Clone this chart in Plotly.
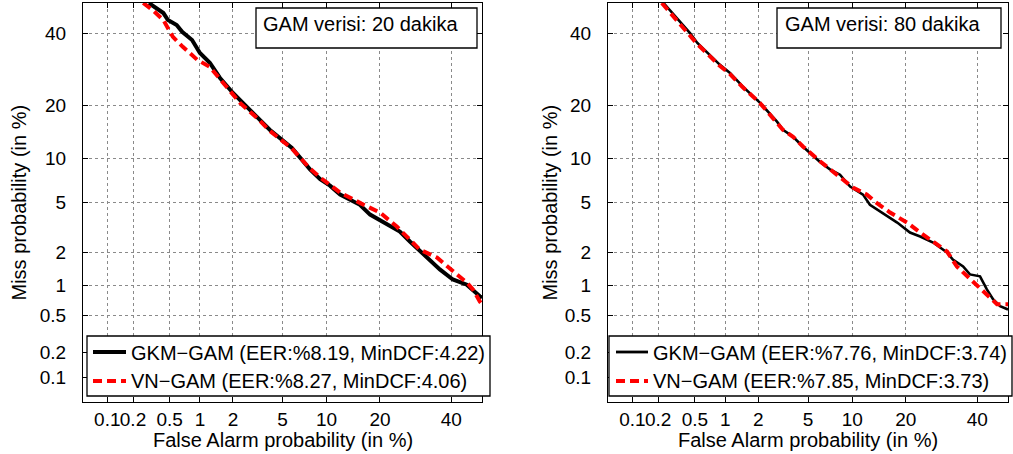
import plotly.graph_objects as go
from statistics import NormalDist

# ---------------- data (percentages) ----------------
tick_pct = [0.1, 0.2, 0.5, 1, 2, 5, 10, 20, 40]
tick_labels = ["0.1", "0.2", "0.5", "1", "2", "5", "10", "20", "40"]
axis_min_pct = 0.05
axis_max_pct = 50

left_title = "GAM verisi: 20 dakika"
right_title = "GAM verisi: 80 dakika"
left_names = ["GKM\u2212GAM (EER:%8.19, MinDCF:4.22)", "VN\u2212GAM (EER:%8.27, MinDCF:4.06)"]
right_names = ["GKM\u2212GAM (EER:%7.76, MinDCF:3.74)", "VN\u2212GAM (EER:%7.85, MinDCF:3.73)"]

left_gkm_fa = [0.30, 0.43, 0.48, 0.59, 0.67, 0.84, 1.0, 1.24, 1.53, 2.0, 2.43, 3.17, 4.0, 5.85, 7.8, 9.1,
               10.5, 12.1, 15.7, 17.8, 21.6, 24.9, 27.6, 32.5, 34.3, 36.4, 40.5, 45.0, 49.3, 50]
left_gkm_miss = [50, 46.7, 44.4, 42.8, 40.6, 38.0, 34.0, 31.1, 26.9, 22.9, 20.5, 17.4, 14.8, 11.6, 8.5, 7.3,
                 6.6, 5.7, 4.8, 4.05, 3.4, 2.97, 2.46, 1.79, 1.62, 1.40, 1.13, 1.01, 0.78, 0.75]

left_vn_fa = [0.26, 0.33, 0.43, 0.54, 0.68, 0.94, 1.24, 1.63, 2.3, 3.17, 4.0, 5.85, 7.8, 9.1, 12.1, 16.0,
              20.0, 24.1, 27.6, 30.4, 35.5, 38.6, 41.8, 45.0, 47.0, 49.3, 50]
left_vn_miss = [50, 47.7, 44.4, 39.0, 35.9, 32.0, 29.9, 25.5, 20.5, 17.2, 14.6, 11.5, 8.6, 7.5, 5.9, 4.9,
                4.2, 3.26, 2.56, 2.10, 1.79, 1.49, 1.26, 1.06, 0.91, 0.69, 0.65]

right_gkm_fa = [0.23, 0.29, 0.375, 0.445, 0.53, 0.71, 0.89, 1.11, 1.46, 2.07, 2.87, 3.21, 3.85, 4.59, 6.1,
                7.15, 8.35, 9.7, 11.65, 12.8, 14.6, 18.1, 21.0, 23.5, 26.9, 30.8, 32.5, 35.6, 37.7, 40.9,
                43.1, 45.1, 47.4, 50]
right_gkm_miss = [50, 46.7, 42.8, 40.2, 37.1, 33.4, 30.5, 28.2, 24.5, 20.5, 16.4, 14.8, 13.5, 11.8, 9.5,
                  8.5, 7.84, 6.5, 5.7, 4.8, 4.27, 3.51, 2.92, 2.71, 2.41, 1.98, 1.72, 1.49, 1.26, 1.21,
                  0.91, 0.73, 0.62, 0.575]

right_vn_fa = [0.22, 0.28, 0.36, 0.43, 0.52, 0.70, 0.88, 1.10, 1.45, 2.06, 2.85, 3.2, 3.85, 4.6, 6.1, 7.1,
               8.35, 10.1, 12.3, 13.7, 16.6, 20.3, 23.5, 26.9, 30.8, 33.7, 36.8, 39.9, 43.1, 46.4, 50]
right_vn_miss = [50, 46.5, 42.5, 40.0, 37.0, 33.2, 30.3, 28.0, 24.4, 20.5, 16.4, 14.8, 13.5, 11.8, 9.6, 8.6,
                 7.6, 6.4, 5.7, 5.07, 4.2, 3.51, 2.92, 2.46, 2.02, 1.49, 1.21, 1.01, 0.81, 0.65, 0.65]

# ---------------- helpers ----------------
_nd = NormalDist()


def probit(pct):
    return _nd.inv_cdf(pct / 100.0)


W, H = 1013, 454


def px(x):
    return x / W


def py(y):
    return 1 - y / H


FONT = "Liberation Sans, Arial, Helvetica, sans-serif"
RED = "#ff0000"

fig = go.Figure()


def add_curve(fa, miss, xa, ya, color, width, dash):
    fig.add_trace(go.Scatter(
        x=[probit(v) for v in fa], y=[probit(v) for v in miss],
        xaxis=xa, yaxis=ya, mode="lines",
        line=dict(color=color, width=width, dash=dash), hoverinfo="skip"))


add_curve(left_gkm_fa, left_gkm_miss, "x", "y", "black", 4, "solid")
add_curve(left_vn_fa, left_vn_miss, "x", "y", RED, 4, "9px,5px")
add_curve(right_gkm_fa, right_gkm_miss, "x2", "y2", "black", 2.6, "solid")
add_curve(right_vn_fa, right_vn_miss, "x2", "y2", RED, 4, "9px,5px")

tv = [probit(v) for v in tick_pct]
rng = [probit(axis_min_pct), probit(axis_max_pct)]

common = dict(
    range=rng, tickvals=tv, ticktext=tick_labels, showline=True, linecolor="black", linewidth=1,
    mirror="ticks", ticks="inside", ticklen=5, tickcolor="black", tickwidth=1,
    showgrid=True, gridcolor="#8a8a8a", griddash="dot", gridwidth=1, zeroline=False,
    tickfont=dict(family=FONT, size=19, color="black"), fixedrange=True, tickangle=0,
)

fig.update_layout(
    width=W, height=H, margin=dict(l=0, r=0, t=0, b=0),
    paper_bgcolor="white", plot_bgcolor="white", showlegend=False,
    xaxis=dict(domain=[px(83), px(482)], anchor="y", ticklabelstandoff=0, **common),
    yaxis=dict(domain=[py(402), py(3)], anchor="x", ticklabelstandoff=12, **common),
    xaxis2=dict(domain=[px(608), px(1008)], anchor="y2", ticklabelstandoff=0, **common),
    yaxis2=dict(domain=[py(402), py(3)], anchor="x2", ticklabelstandoff=12, **common),
)

shapes = []
annotations = []


def text(x, y, s, size=20, xanchor="left", angle=0):
    annotations.append(dict(
        x=px(x), y=py(y), xref="paper", yref="paper", text=s, showarrow=False,
        xanchor=xanchor, yanchor="middle", textangle=angle,
        font=dict(family=FONT, size=size, color="black")))


def rect(x0, y0, x1, y1):
    shapes.append(dict(type="rect", xref="paper", yref="paper", x0=px(x0), x1=px(x1),
                       y0=py(y1), y1=py(y0), line=dict(color="black", width=1.3),
                       fillcolor="white", layer="above"))


def sample(x0, x1, y, color, width, dash):
    shapes.append(dict(type="line", xref="paper", yref="paper", x0=px(x0), x1=px(x1),
                       y0=py(y), y1=py(y), line=dict(color=color, width=width, dash=dash),
                       layer="above"))


# axis titles
for cx, cyx in [(282.5, 18), (808, 549)]:
    text(cx, 440, "False Alarm probability (in %)", xanchor="center")
    text(cyx, 202.5, "Miss probability (in %)", xanchor="center", angle=-90)

# title boxes
rect(256, 8, 477, 48)
text(261, 24, left_title)
rect(777, 8, 1001, 48)
text(783, 24, right_title)

# legends
rect(87, 336, 490, 396)
sample(93, 126, 352, "black", 4, "solid")
sample(93, 126, 381, RED, 4, "9px,5px")
text(129, 353, left_names[0])
text(129, 381, left_names[1])

rect(609, 336, 1012, 396)
sample(616, 648, 352, "black", 2.8, "solid")
sample(616, 648, 381, RED, 4, "9px,5px")
text(651, 353, right_names[0])
text(651, 381, right_names[1])

fig.update_layout(shapes=shapes, annotations=annotations)
fig.write_html("out.html")
